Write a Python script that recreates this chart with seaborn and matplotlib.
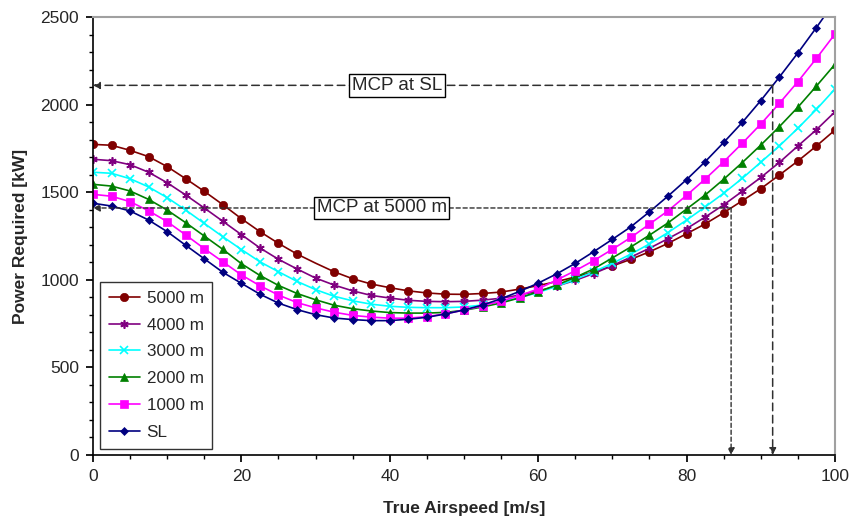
import numpy as np
import pandas as pd
import matplotlib
matplotlib.use('Agg')
import matplotlib.pyplot as plt
from matplotlib.ticker import MultipleLocator
import seaborn as sns

# =========================
# DATA
# =========================
speed = np.arange(0, 100.1, 2.5)  # true airspeed [m/s]

p_5000 = [1773, 1768, 1739, 1703, 1646, 1577, 1505, 1429, 1349, 1275,
          1208, 1147, 1095, 1046, 1006, 976, 955, 937, 925, 918,
          917, 922, 930, 947, 967, 990, 1016, 1045, 1079, 1117,
          1160, 1208, 1263, 1319, 1383, 1451, 1520, 1598, 1678, 1764, 1855]
p_4000 = [1688, 1680, 1657, 1614, 1554, 1484, 1410, 1334, 1258, 1182,
          1117, 1062, 1010, 970, 937, 911, 896, 883, 877, 875,
          877, 884, 895, 913, 936, 964, 997, 1036, 1081, 1130,
          1180, 1235, 1292, 1358, 1428, 1505, 1584, 1670, 1764, 1857, 1959]
p_3000 = [1614, 1608, 1577, 1530, 1469, 1398, 1322, 1246, 1173, 1103,
          1046, 991, 944, 906, 880, 861, 849, 843, 841, 841,
          845, 856, 874, 898, 928, 963, 1003, 1046, 1094, 1147,
          1205, 1270, 1341, 1416, 1494, 1579, 1671, 1764, 1865, 1973, 2089]
p_2000 = [1545, 1535, 1507, 1459, 1398, 1326, 1250, 1174, 1092, 1025,
          968, 922, 886, 855, 835, 822, 813, 810, 810, 814,
          826, 845, 868, 897, 932, 970, 1014, 1063, 1125, 1188,
          1255, 1325, 1404, 1484, 1574, 1669, 1769, 1874, 1985, 2106, 2230]
p_1000 = [1488, 1477, 1446, 1394, 1332, 1256, 1178, 1103, 1028, 966,
          913, 870, 840, 815, 797, 787, 781, 781, 790, 806,
          827, 852, 878, 910, 948, 999, 1052, 1110, 1174, 1242,
          1318, 1394, 1482, 1575, 1674, 1779, 1889, 2007, 2131, 2264, 2403]
p_sl = [1437, 1421, 1393, 1341, 1275, 1197, 1120, 1043, 980, 918,
        867, 830, 801, 782, 773, 767, 767, 775, 786, 805,
        828, 856, 892, 934, 981, 1034, 1094, 1161, 1231, 1303,
        1388, 1478, 1572, 1674, 1784, 1898, 2023, 2157, 2295, 2440, 2590]

labels = ['5000 m', '4000 m', '3000 m', '2000 m', '1000 m', 'SL']
series = [p_5000, p_4000, p_3000, p_2000, p_1000, p_sl]

# max continuous power lines and where they meet the curves
mcp_sl = 2110
mcp_5000 = 1410
v_mcp_sl = 91.6
v_mcp_5000 = 86.0

# =========================
# STYLE
# =========================
colors = ['#800000', '#800080', '#00FFFF', '#008000', '#FF00FF', '#000080']
markers = ['o', (6, 2, 0), 'x', '^', 's', 'D']
msizes = [6, 6, 6, 6, 6, 4.5]

sns.set_theme(style='white')
plt.rcParams['font.family'] = ['Liberation Sans', 'DejaVu Sans']

fig = plt.figure(figsize=(8.49, 5.17), dpi=100)
ax = fig.add_axes([0.1095, 0.1199, 0.8740, 0.8472])

for lab, vals, c, m, ms in zip(labels, series, colors, markers, msizes):
    df = pd.DataFrame({'speed': speed, 'power': vals})
    every = None
    if lab == '5000 m':
        # one marker is missing on this curve in the original
        every = [i for i in range(len(speed)) if i != 12]
    sns.lineplot(data=df, x='speed', y='power', ax=ax, color=c, lw=1.2,
                 marker=m, markersize=ms, markeredgecolor=c,
                 markeredgewidth=1.2 if m in ('x', (6, 2, 0)) else 0.5,
                 markevery=every, label=lab)

# =========================
# MCP ANNOTATIONS
# =========================
arrow_sl = dict(arrowstyle='-|>', color='#303030', lw=1.1, ls=(0, (5, 3)),
                shrinkA=0, shrinkB=0, mutation_scale=10)
arrow_5k = dict(arrowstyle='-|>', color='#303030', lw=1.0, ls=(0, (3, 2)),
                shrinkA=0, shrinkB=0, mutation_scale=10)

ax.annotate('', xy=(0, mcp_sl), xytext=(v_mcp_sl, mcp_sl), arrowprops=arrow_sl)
ax.annotate('', xy=(v_mcp_sl, 0), xytext=(v_mcp_sl, mcp_sl), arrowprops=arrow_sl)
ax.annotate('', xy=(0, mcp_5000), xytext=(v_mcp_5000, mcp_5000), arrowprops=arrow_5k)
ax.annotate('', xy=(v_mcp_5000, 0), xytext=(v_mcp_5000, mcp_5000), arrowprops=arrow_5k)

box = dict(boxstyle='square,pad=0.15', fc='white', ec='black', lw=1)
ax.text(41, mcp_sl, 'MCP at SL', fontsize=13.5, ha='center', va='center', bbox=box)
ax.text(38.9, mcp_5000, 'MCP at 5000 m', fontsize=13.5, ha='center', va='center', bbox=box)

# =========================
# AXES
# =========================
ax.set_xlim(0, 100)
ax.set_ylim(0, 2500)
ax.xaxis.set_major_locator(MultipleLocator(20))
ax.xaxis.set_minor_locator(MultipleLocator(5))
ax.yaxis.set_major_locator(MultipleLocator(500))
ax.yaxis.set_minor_locator(MultipleLocator(100))
ax.tick_params(which='both', direction='out', bottom=True, left=True, color='black')
ax.tick_params(which='major', length=5, labelsize=12.5, pad=5)
ax.tick_params(which='minor', length=3)

ax.set_xlabel('True Airspeed [m/s]', fontsize=12.5, fontweight='bold', labelpad=12)
ax.set_ylabel('Power Required [kW]', fontsize=12.5, fontweight='bold', labelpad=9)

for side in ['left', 'bottom']:
    ax.spines[side].set_color('black')
    ax.spines[side].set_linewidth(1.2)
for side in ['top', 'right']:
    ax.spines[side].set_color('#a0a0a0')
    ax.spines[side].set_linewidth(1.5)

leg = ax.legend(loc='lower left', bbox_to_anchor=(0.01, 0.014), borderaxespad=0,
                fontsize=12.3, frameon=True, fancybox=False, edgecolor='black',
                handlelength=1.8, handletextpad=0.4, labelspacing=0.7, borderpad=0.5)
leg.get_frame().set_linewidth(1.0)

fig.savefig('out.png', dpi=100)
